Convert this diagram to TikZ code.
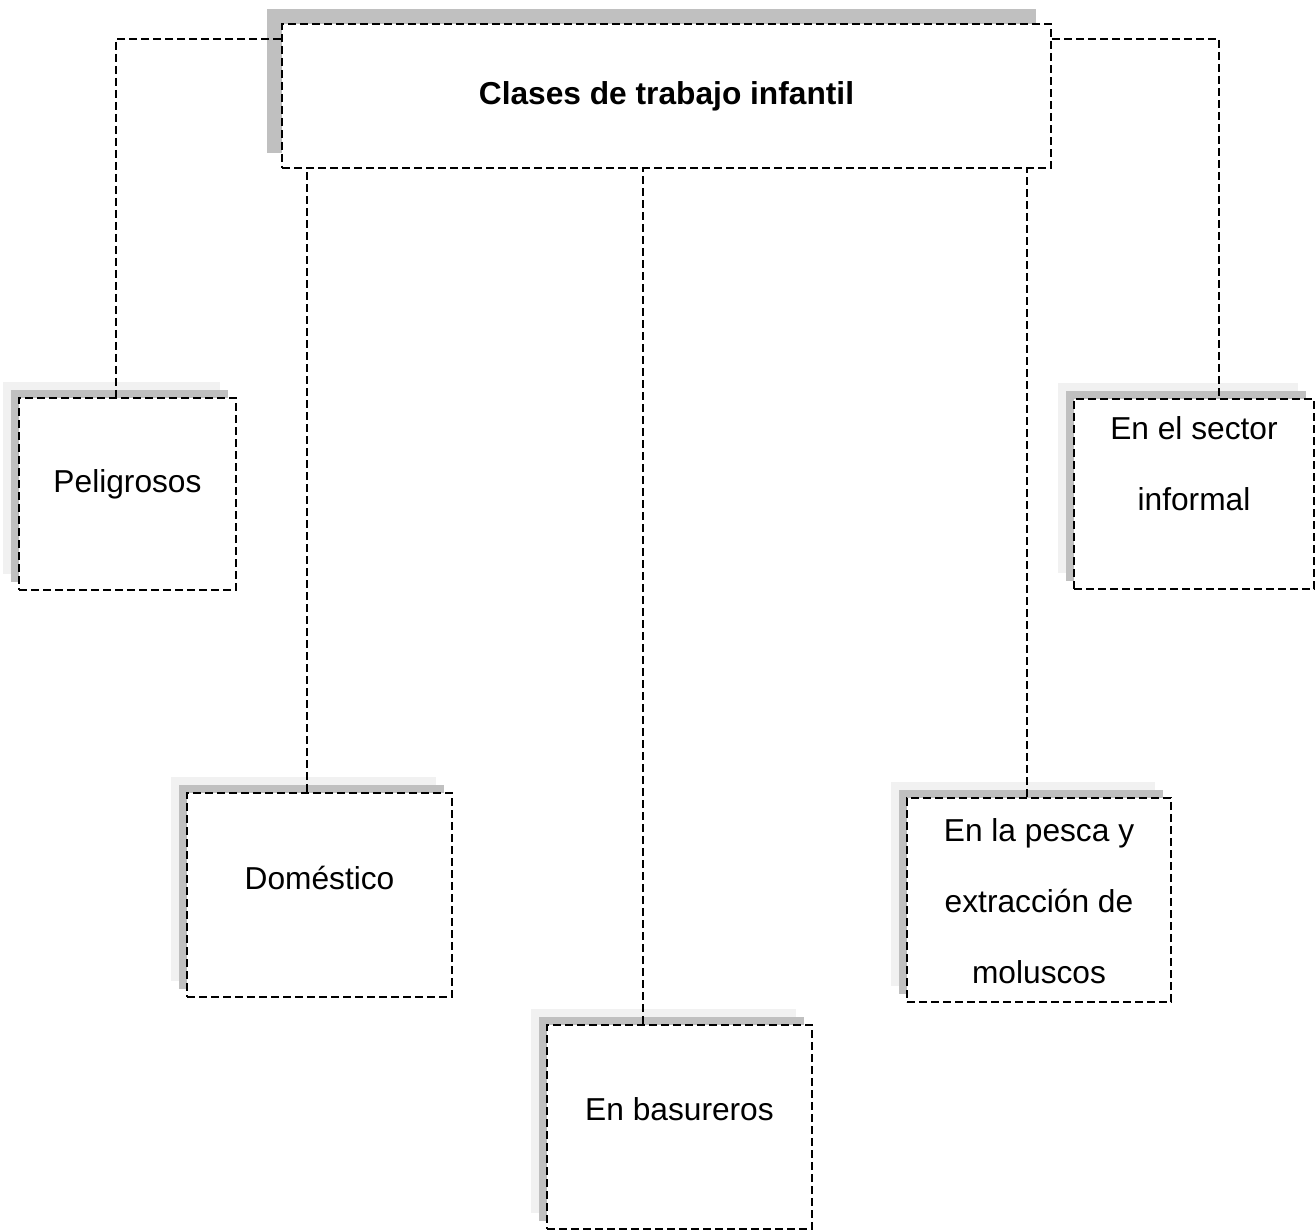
\documentclass[tikz,border=0pt]{standalone}
\usepackage{fontspec}
\setmainfont{Liberation Sans}
\usetikzlibrary{shadows}
\definecolor{shadowdark}{RGB}{192,192,192}
\definecolor{shadowlight}{RGB}{241,241,241}
\begin{document}
\begin{tikzpicture}[x=1pt, y=-1pt,
                    font=\fontsize{31.7}{71}\selectfont,
                    link/.style={line width=2pt, dash pattern=on 8pt off 4pt},
                    topbox/.style={draw, fill=white, link, inner sep=0pt,
                        general shadow={fill=shadowdark, draw=none, shadow xshift=-15pt, shadow yshift=15pt}},
                    box/.style={draw, fill=white, link, inner sep=0pt,
                        general shadow={fill=shadowlight, draw=none, shadow xshift=-16pt, shadow yshift=16pt},
                        general shadow={fill=shadowdark, draw=none, shadow xshift=-8pt, shadow yshift=8pt}},
                    boxtext/.style={anchor=base, align=center, inner sep=0pt}]
    \useasboundingbox (0,0) rectangle (1315,1230);
    \node[topbox, minimum width=769pt, minimum height=144pt] (clases) at (666.5,96)
        {\bfseries Clases de trabajo infantil};
    \node[box, minimum width=217pt, minimum height=192pt] (pelig) at (127.5,494) {};
    \node[box, minimum width=265pt, minimum height=204pt] (domes) at (319.5,895) {};
    \node[box, minimum width=265pt, minimum height=204pt] (basur) at (679.5,1127) {};
    \node[box, minimum width=264pt, minimum height=204pt] (pesca) at (1039,900) {};
    \node[box, minimum width=240pt, minimum height=190pt] (sector) at (1194,494) {};
    \node[boxtext] (peligtext) at (127.5,493) {Peligrosos};
    \node[boxtext] (domestext) at (319.5,889) {Doméstico};
    \node[boxtext] (basurtext) at (679.5,1120) {En basureros};
    \node[boxtext] (pescatext) at (1039,983) {En la pesca y\\extracción de\\moluscos};
    \node[boxtext] (sectortext) at (1194,511) {En el sector\\informal};
    \draw[link] ([yshift=-16pt]clases.north west) -| ([xshift=-11.5pt]pelig.north);
    \draw[link] ([yshift=-16pt]clases.north east) -| ([xshift=25pt]sector.north);
    \draw[link] ([xshift=-12.5pt]domes.north) -- ([xshift=-12.5pt]domes.north |- clases.south);
    \draw[link] ([xshift=-36.5pt]basur.north) -- ([xshift=-36.5pt]basur.north |- clases.south);
    \draw[link] ([xshift=-12pt]pesca.north) -- ([xshift=-12pt]pesca.north |- clases.south);
\end{tikzpicture}
\end{document}
